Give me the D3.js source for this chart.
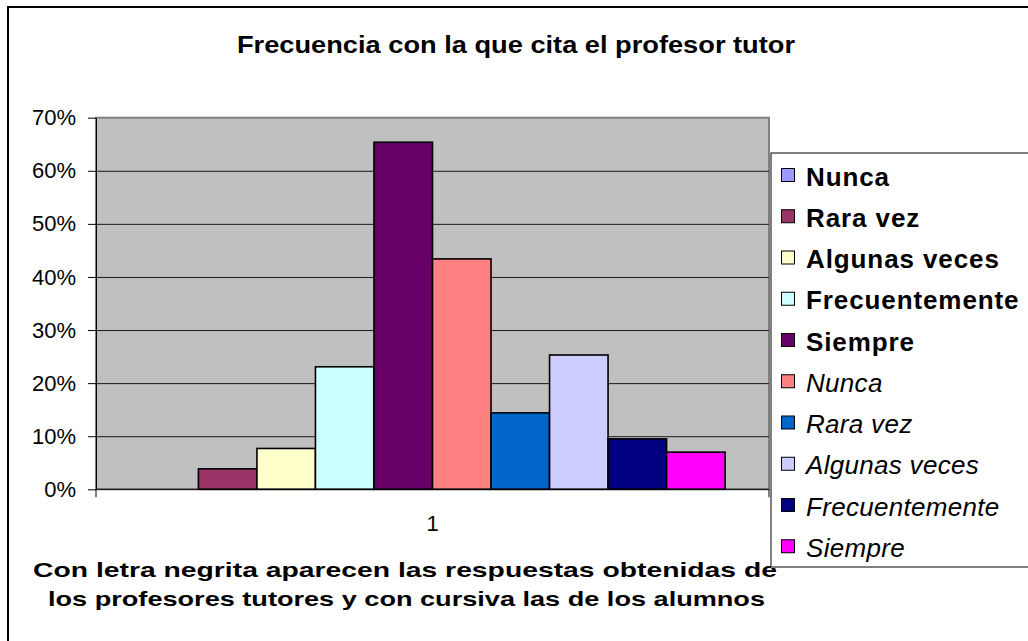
<!DOCTYPE html>
<html lang="es">
<head>
<meta charset="UTF-8">
<title>Frecuencia con la que cita el profesor tutor</title>
<script src="https://cdn.jsdelivr.net/npm/d3@7/dist/d3.min.js"></script>
<style>
body{margin:0;background:#fff;}
text{font-family:"Liberation Sans",Arial,sans-serif;fill:#000;}
</style>
</head>
<body>
<script>
// datos
var categorias = ["1"];
var respuestas = ["Nunca","Rara vez","Algunas veces","Frecuentemente","Siempre"];
var profesores = [0, 3.85, 7.69, 23.08, 65.38];
var alumnos = [43.4, 14.4, 25.3, 9.5, 7.0];
var coloresProf = ["#9999FF","#993366","#FFFFCC","#CCFFFF","#660066"];
var coloresAlum = ["#FF8080","#0066CC","#CCCCFF","#000080","#FF00FF"];
var ticksY = [0,10,20,30,40,50,60,70];

var width = 1028, height = 641;
var plot = {left:96, right:769, top:117.7, bottom:489.3};

// serie = una barra, primero profesores (negrita) luego alumnos (cursiva)
var series = respuestas.map(function(r,i){ return {nombre:r, valor:profesores[i], color:coloresProf[i], grupo:"prof"}; })
  .concat(respuestas.map(function(r,i){ return {nombre:r, valor:alumnos[i], color:coloresAlum[i], grupo:"alum"}; }));

var svg = d3.select("body").append("svg").attr("width",width).attr("height",height);

// borde del area del grafico
svg.append("path").attr("d","M8,"+height+"V7H"+width).attr("fill","none").attr("stroke","#000").attr("stroke-width",2);

var x0 = d3.scaleBand().domain(categorias).range([plot.left,plot.right]);
var bw = x0.bandwidth()/(series.length+1.5); // ancho de separacion 150%
var x1 = d3.scaleBand().domain(d3.range(series.length)).range([0.75*bw, x0.bandwidth()-0.75*bw]);
var y = d3.scaleLinear().domain([0,70]).range([plot.bottom,plot.top]);

// fondo gris del area de trazado
svg.append("rect").attr("x",plot.left).attr("y",plot.top).attr("width",plot.right-plot.left).attr("height",plot.bottom-plot.top)
  .attr("fill","#C0C0C0").attr("stroke","#808080").attr("stroke-width",2);

// lineas de division
svg.append("g").attr("transform","translate("+plot.left+",0)")
  .call(d3.axisLeft(y).tickValues(ticksY.slice(1,-1)).tickSize(-(plot.right-plot.left)).tickFormat(""))
  .call(function(g){ g.select(".domain").remove(); g.selectAll("line").attr("stroke","#1a1a1a"); });

// barras
svg.append("g").selectAll("rect").data(series).enter().append("rect")
  .attr("x",function(d,i){ return x0(categorias[0])+x1(i); })
  .attr("y",function(d){ return y(d.valor); })
  .attr("width",x1.bandwidth())
  .attr("height",function(d){ return y(0)-y(d.valor); })
  .attr("fill",function(d){ return d.color; })
  .attr("stroke","#000").attr("stroke-width",1.6)
  .attr("display",function(d){ return d.valor>0 ? null : "none"; });

// eje y
var ejeY = svg.append("g").attr("transform","translate("+plot.left+",0)")
  .call(d3.axisLeft(y).tickValues(ticksY).tickSize(8).tickSizeOuter(0).tickPadding(12).tickFormat(function(d){ return d+"%"; }));
ejeY.select(".domain").attr("stroke","#000");
ejeY.selectAll("line").attr("stroke","#000");
ejeY.selectAll("text").attr("font-size","22px").attr("font-family","'Liberation Sans',Arial,sans-serif").attr("fill","#000");

// eje x
var ejeX = svg.append("g").attr("transform","translate(0,"+plot.bottom+")")
  .call(d3.axisBottom(x0).tickSize(0).tickPadding(26));
ejeX.select(".domain").attr("stroke","#000").attr("d","M"+plot.left+",8V0H"+plot.right+"V8");
ejeX.selectAll("text").attr("font-size","22px").attr("font-family","'Liberation Sans',Arial,sans-serif").attr("fill","#000");

// titulo
svg.append("text").attr("x",237).attr("y",53).attr("textLength",558).attr("lengthAdjust","spacingAndGlyphs")
  .attr("font-size","23.5px").attr("font-weight","bold").text("Frecuencia con la que cita el profesor tutor");

// nota inferior
var nota = [
  {t:"Con letra negrita aparecen las respuestas obtenidas de", x:33, y:577, w:744},
  {t:"los profesores tutores y con cursiva las de los alumnos", x:48, y:606, w:717}
];
svg.append("g").selectAll("text").data(nota).enter().append("text")
  .attr("x",function(d){ return d.x; }).attr("y",function(d){ return d.y; })
  .attr("textLength",function(d){ return d.w; }).attr("lengthAdjust","spacingAndGlyphs")
  .attr("font-size","21px").attr("font-weight","bold")
  .text(function(d){ return d.t; });

// leyenda
var leyenda = svg.append("g");
leyenda.append("rect").attr("x",771).attr("y",153).attr("width",300).attr("height",414)
  .attr("fill","#fff").attr("stroke","#000").attr("stroke-width",1);
leyenda.append("line").attr("x1",771).attr("x2",width).attr("y1",567).attr("y2",567).attr("stroke","#808080").attr("stroke-width",2);
var filas = leyenda.selectAll("g.fila").data(series).enter().append("g").attr("class","fila")
  .attr("transform",function(d,i){ return "translate(0,"+(175.5+i*41.25)+")"; });
filas.append("rect").attr("x",781.5).attr("y",-7).attr("width",13).attr("height",13)
  .attr("fill",function(d){ return d.color; }).attr("stroke","#000").attr("stroke-width",1);
filas.append("text").attr("x",806).attr("y",10)
  .attr("font-size","26px")
  .attr("font-weight",function(d){ return d.grupo=="prof" ? "bold" : "normal"; })
  .attr("font-style",function(d){ return d.grupo=="prof" ? "normal" : "italic"; })
  .attr("letter-spacing",function(d){ return d.grupo=="prof" ? "0.9px" : "0.3px"; })
  .text(function(d){ return d.nombre; });
</script>
</body>
</html>
